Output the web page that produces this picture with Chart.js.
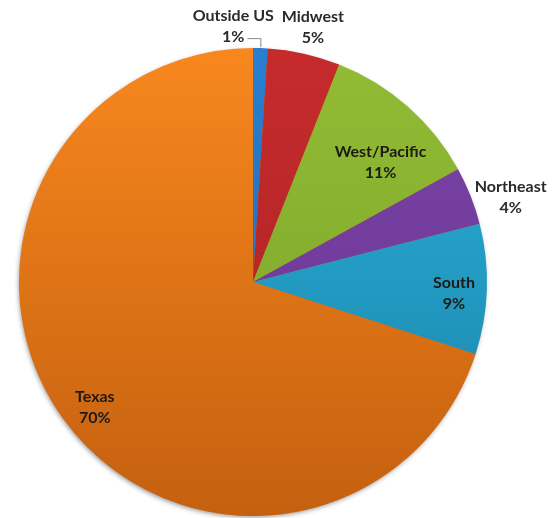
<!DOCTYPE html>
<html>
<head>
<meta charset="utf-8">
<script src="https://cdn.jsdelivr.net/npm/chart.js@4.4.1/dist/chart.umd.min.js"></script>
<style>
html,body{margin:0;padding:0;background:#fff;}
#wrap{width:556px;height:518px;position:relative;}
</style>
</head>
<body>
<div id="wrap"><canvas id="c" width="556" height="518"></canvas></div>
<script>
// Data
const categories = ["Outside US", "Midwest", "West/Pacific", "Northeast", "South", "Texas"];
const shares = [1, 5, 11, 4, 9, 70];
const pctLabels = ["1%", "5%", "11%", "4%", "9%", "70%"];

// Styles
const topColors    = ["#2a7fd0", "#c62b2c", "#92bc34", "#7c44a6", "#2ab3de", "#f8871e"];
const bottomColors = ["#1f64ad", "#a82126", "#7aa02a", "#653491", "#1a80a5", "#c4600f"];
// label placement: radial factor (of outer radius), angle nudge (deg)
const labelRadial = [1.10, 1.12, 0.75, 1.16, 0.86, 0.86];
const labelNudge  = [-6.2, 0.6, 5.2, 3.3, 1.2, -2.2];

function grad(ctx, chartArea, i) {
  const g = ctx.createLinearGradient(0, chartArea.top, 0, chartArea.bottom);
  g.addColorStop(0, topColors[i]);
  g.addColorStop(1, bottomColors[i]);
  return g;
}

const shadowPlugin = {
  id: 'pieShadow',
  beforeDatasetsDraw(chart) {
    const arc = chart.getDatasetMeta(0).data[0];
    if (!arc) return;
    const ctx = chart.ctx;
    ctx.save();
    ctx.shadowColor = 'rgba(0,0,0,0.45)';
    ctx.shadowBlur = 5;
    ctx.shadowOffsetX = -1;
    ctx.shadowOffsetY = 2;
    ctx.fillStyle = '#d06a14';
    ctx.beginPath();
    ctx.arc(arc.x, arc.y, arc.outerRadius - 1, 0, Math.PI * 2);
    ctx.fill();
    ctx.restore();
  }
};

const labelPlugin = {
  id: 'sliceLabels',
  afterDatasetsDraw(chart) {
    const ctx = chart.ctx;
    const meta = chart.getDatasetMeta(0);
    ctx.save();
    ctx.font = 'bold 16px Lato, "Open Sans", sans-serif';
    ctx.textAlign = 'center';
    ctx.textBaseline = 'middle';
    meta.data.forEach((arc, i) => {
      const mid = (arc.startAngle + arc.endAngle) / 2 + labelNudge[i] * Math.PI / 180;
      const r = arc.outerRadius * labelRadial[i];
      const lx = arc.x + Math.cos(mid) * r;
      const ly = arc.y + Math.sin(mid) * r;
      const inside = labelRadial[i] < 1;
      ctx.fillStyle = inside ? '#1c1a16' : '#2a2a2a';
      ctx.fillText(categories[i], lx, ly - 10);
      ctx.fillText(pctLabels[i], lx, ly + 11);
      if (i === 0) {
        // leader line from the label to the slice edge
        const ma = (arc.startAngle + arc.endAngle) / 2;
        const ex = arc.x + Math.cos(ma) * arc.outerRadius;
        const ey = arc.y + Math.sin(ma) * arc.outerRadius;
        const w = ctx.measureText(pctLabels[i]).width;
        ctx.strokeStyle = '#8a8a8a';
        ctx.lineWidth = 1;
        ctx.beginPath();
        ctx.moveTo(lx + w / 2 + 3, ey - 9.5);
        ctx.lineTo(ex + 0.5, ey - 9.5);
        ctx.lineTo(ex + 0.5, ey - 1);
        ctx.stroke();
      }
    });
    ctx.restore();
  }
};

new Chart(document.getElementById('c'), {
  type: 'pie',
  data: {
    labels: categories,
    datasets: [{
      data: shares,
      backgroundColor: (c) => {
        const ca = c.chart.chartArea;
        if (!ca) return topColors[c.dataIndex];
        return grad(c.chart.ctx, ca, c.dataIndex);
      },
      borderWidth: 0
    }]
  },
  options: {
    responsive: false,
    animation: false,
    layout: { padding: { left: 18, right: 68, top: 48, bottom: 2 } },
    plugins: {
      legend: { display: false },
      tooltip: { enabled: false }
    }
  },
  plugins: [shadowPlugin, labelPlugin]
});
</script>
</body>
</html>
